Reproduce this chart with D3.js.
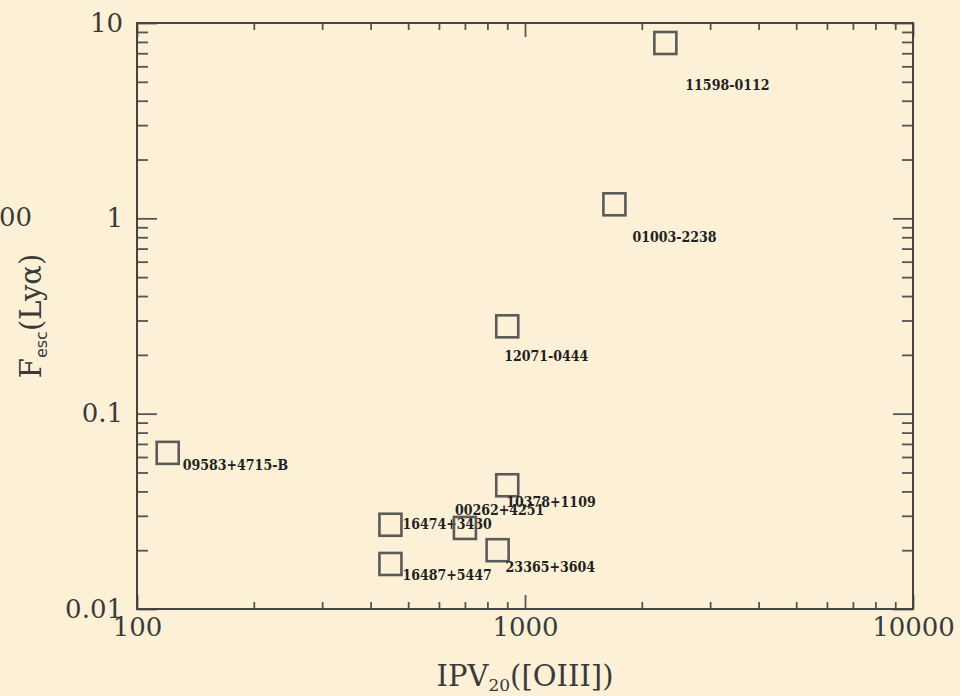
<!DOCTYPE html>
<html>
<head>
<meta charset="utf-8">
<script src="https://cdn.jsdelivr.net/npm/d3@7"></script>
<style>
  body{margin:0;background:#fff;}
  svg{display:block;}
</style>
</head>
<body>
<svg id="chart" width="978" height="696"></svg>
<script>
// galaxy names, IPV20([OIII]) and Fesc(Lya)
const names=["11598-0112","01003-2238","12071-0444","09583+4715-B","16474+3430",
             "16487+5447","00262+4251","10378+1109","23365+3604"];
const ipv=[2300,1700,900,120,450,450,700,900,850];
const fesc=[7.9,1.18,0.28,0.063,0.027,0.017,0.026,0.043,0.020];

// label offsets from the marker centre (layout only)
const label_dx=[20,18,-3,15,12,12,-10,-1,8];
const label_dy=[47,38,35,17,4,16,-13,22,22];

const x_major=[100,1000,10000];
const y_major=[0.01,0.1,1,10];

const svg=d3.select("#chart");
const W=978,H=696;
const m_left=137,m_right=913,m_top=23,m_bottom=609;

// parchment background
svg.append("rect").attr("x",0).attr("y",0).attr("width",960).attr("height",H).attr("fill","#fcf1d6");

const x=d3.scaleLog().domain([100,10000]).range([m_left,m_right]);
const y=d3.scaleLog().domain([0.01,10]).range([m_bottom,m_top]);

// minor tick values: 2..9 of each decade
function minors(lo,hi){
    const out=[];
    for (let d=lo;d<hi*0.999;d*=10){
        for (let k=2;k<10;k++) out.push(d*k);
    }
    return out;
}
const x_minor=minors(100,10000);
const y_minor=minors(0.01,10);

const tick_color="#555";
function style_axis(g){
    g.select(".domain").remove();
    g.selectAll(".tick line").attr("stroke",tick_color).attr("stroke-width",1.8);
    g.selectAll(".tick text").attr("fill","#3a3a3a")
        .style("font-family","'DejaVu Serif',serif").style("font-size","26px");
}

// bottom
svg.append("g").attr("transform","translate(0,"+m_bottom+")")
    .call(d3.axisBottom(x).tickValues(x_minor).tickSize(-7).tickFormat(""))
    .call(style_axis);
svg.append("g").attr("transform","translate(0,"+m_bottom+")")
    .call(d3.axisBottom(x).tickValues(x_major).tickSize(-14).tickPadding(9).tickFormat(d3.format("d")))
    .call(style_axis);
// top
svg.append("g").attr("transform","translate(0,"+m_top+")")
    .call(d3.axisTop(x).tickValues(x_minor).tickSize(-7).tickFormat(""))
    .call(style_axis);
svg.append("g").attr("transform","translate(0,"+m_top+")")
    .call(d3.axisTop(x).tickValues(x_major).tickSize(-14).tickFormat(""))
    .call(style_axis);
// left
svg.append("g").attr("transform","translate("+m_left+",0)")
    .call(d3.axisLeft(y).tickValues(y_minor).tickSize(-11).tickFormat(""))
    .call(style_axis);
svg.append("g").attr("transform","translate("+m_left+",0)")
    .call(d3.axisLeft(y).tickValues(y_major).tickSize(-20).tickPadding(14).tickFormat(d=>d>=1?d3.format("d")(d):String(d)))
    .call(style_axis);
// right
svg.append("g").attr("transform","translate("+m_right+",0)")
    .call(d3.axisRight(y).tickValues(y_minor).tickSize(-11).tickFormat(""))
    .call(style_axis);
svg.append("g").attr("transform","translate("+m_right+",0)")
    .call(d3.axisRight(y).tickValues(y_major).tickSize(-20).tickFormat(""))
    .call(style_axis);

// frame
svg.append("rect")
    .attr("x",m_left).attr("y",m_top)
    .attr("width",m_right-m_left).attr("height",m_bottom-m_top)
    .attr("fill","none").attr("stroke","#444").attr("stroke-width",2);

// markers
const size=22;
for (let i=0;i<names.length;i++){
    const cx=x(ipv[i]), cy=y(fesc[i]);
    svg.append("rect")
        .attr("x",cx-size/2).attr("y",cy-size/2)
        .attr("width",size).attr("height",size)
        .attr("fill","none").attr("stroke","#5a5a5a").attr("stroke-width",2.6);
    svg.append("text")
        .attr("x",cx+label_dx[i]).attr("y",cy+label_dy[i])
        .attr("fill","#222")
        .style("font-family","'DejaVu Serif Condensed','DejaVu Serif',serif")
        .style("font-size","14px").style("font-weight","bold")
        .text(names[i]);
}

// axis titles
const xt=svg.append("text").attr("x",(m_left+m_right)/2).attr("y",686)
    .attr("text-anchor","middle").attr("fill","#3a3a3a")
    .style("font-family","'DejaVu Serif',serif").style("font-size","29px");
xt.append("tspan").text("IPV");
xt.append("tspan").attr("dy",5).style("font-size","17px").text("20");
xt.append("tspan").attr("dy",-5).text("([OIII])");

const yt=svg.append("text").attr("transform","translate(41,"+((m_top+m_bottom)/2)+") rotate(-90)")
    .attr("text-anchor","middle").attr("fill","#3a3a3a")
    .style("font-family","'DejaVu Serif',serif").style("font-size","29px");
yt.append("tspan").text("F");
yt.append("tspan").attr("dy",6).style("font-size","16px").style("font-family","'DejaVu Sans',sans-serif").text("esc");
yt.append("tspan").attr("dy",-6).text("(Lyα)");

// edge of the neighbouring panel
svg.append("text").attr("x",32).attr("y",226).attr("text-anchor","end").attr("fill","#3a3a3a")
    .style("font-family","'DejaVu Serif',serif").style("font-size","26px").text("100");
</script>
</body>
</html>
